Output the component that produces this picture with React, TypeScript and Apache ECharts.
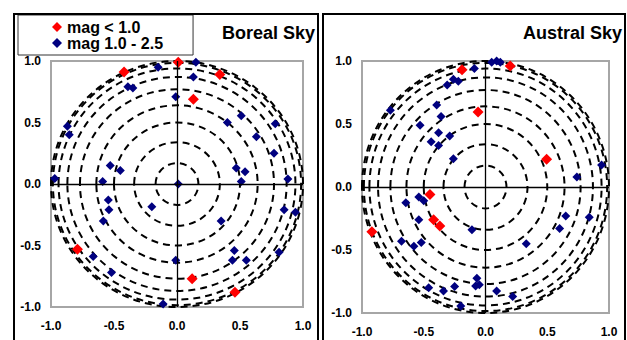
import React, { useEffect, useRef } from "react";
import * as echarts from "echarts";

const seriesNames = ["mag < 1.0", "mag 1.0 - 2.5"];
const panelTitles = ["Boreal Sky", "Austral Sky"];
const ringRadii = [0.17, 0.34, 0.5, 0.64, 0.77, 0.87, 0.94, 0.985, 1.0];

const borealRed = [
  [0.01, 0.99], [-0.42, 0.91], [0.34, 0.89], [0.13, 0.69],
  [-0.79, -0.53], [0.12, -0.77], [0.46, -0.88],
];
const borealBlue = [
  [-0.15, 0.95], [0.15, 0.99], [0.13, 0.87], [-0.39, 0.79], [-0.35, 0.78], [-0.01, 0.71],
  [0.51, 0.555], [0.4, 0.5], [0.78, 0.49], [-0.87, 0.47], [-0.855, 0.4], [0.63, 0.385], [0.77, 0.25],
  [-0.53, 0.15], [-0.45, 0.11], [0.47, 0.13], [0.54, 0.1], [-0.97, 0.045], [-0.59, 0.02], [0.51, 0.02],
  [0.88, 0.04], [0.01, 0.0],
  [-0.545, -0.13], [-0.54, -0.21], [-0.2, -0.185], [-0.585, -0.3], [0.85, -0.21], [0.94, -0.23], [0.35, -0.3],
  [0.455, -0.54], [0.81, -0.555], [0.44, -0.62], [0.55, -0.62], [-0.665, -0.59], [-0.01, -0.62],
  [-0.52, -0.72], [-0.11, -0.975],
];
const australRed = [
  [-0.19, 0.93], [0.2, 0.96], [-0.06, 0.595], [0.495, 0.22],
  [-0.45, -0.06], [-0.42, -0.26], [-0.37, -0.31], [-0.92, -0.355],
];
const australBlue = [
  [-0.09, 0.94], [0.05, 0.99], [0.09, 1.0], [0.12, 0.99], [-0.26, 0.855], [-0.22, 0.84], [-0.31, 0.81],
  [-0.77, 0.61], [-0.395, 0.65], [-0.36, 0.56], [-0.53, 0.49], [-0.38, 0.43], [-0.29, 0.405],
  [-0.44, 0.36], [-0.38, 0.33], [-0.26, 0.225],
  [0.94, 0.175], [0.74, 0.08],
  [-0.54, -0.08], [-0.5, -0.11], [-0.645, -0.125], [-0.54, -0.26], [-0.11, -0.34], [-0.68, -0.43],
  [-0.58, -0.47], [-0.52, -0.44],
  [-0.07, -0.725], [-0.08, -0.785], [-0.05, -0.775], [-0.46, -0.8], [-0.34, -0.825], [-0.25, -0.79],
  [-0.2, -0.945],
  [0.65, -0.23], [0.84, -0.24], [0.6, -0.33], [0.33, -0.45], [0.09, -0.825], [0.22, -0.87],
];

const FONT = "Arial, 'Liberation Sans', sans-serif";
const RED = "#ff0000";
const BLUE = "#000080";

export default function App() {
  const ref = useRef<HTMLDivElement>(null);

  useEffect(() => {
    if (!ref.current) return;
    const chart = echarts.init(ref.current, null, { renderer: "svg" });

    const grids = [
      { left: 51, top: 61, width: 252, height: 246 },
      { left: 362, top: 61, width: 247, height: 252 },
    ];
    const panels = [
      { red: borealRed, blue: borealBlue },
      { red: australRed, blue: australBlue },
    ];

    const axisCommon = {
      type: "value",
      min: -1,
      max: 1,
      interval: 0.5,
      splitLine: { show: false },
      axisTick: { show: false },
      axisLine: { show: false, onZero: false },
      axisLabel: {
        color: "#000",
        fontFamily: FONT,
        fontWeight: "bold",
        fontSize: 12,
        formatter: (v: number) => v.toFixed(1),
      },
    };

    const series: any[] = [];
    panels.forEach((p, i) => {
      series.push({
        type: "custom",
        xAxisIndex: i,
        yAxisIndex: i,
        silent: true,
        z: 1,
        data: ringRadii.map((r) => [r, 0]),
        renderItem: (params: any, api: any) => {
          const r = api.value(0);
          const c = api.coord([0, 0]);
          const s = api.size([r, r]);
          return {
            type: "ellipse",
            shape: { cx: c[0], cy: c[1], rx: s[0], ry: s[1] },
            style: { fill: "none", stroke: "#000", lineWidth: 2, lineDash: [7, 5] },
          };
        },
        markLine: {
          silent: true,
          symbol: ["none", "none"],
          label: { show: false },
          lineStyle: { color: "#000", type: "solid", width: 1.3, opacity: 1 },
          data: [{ xAxis: 0 }, { yAxis: 0 }],
        },
      });
      series.push({
        type: "scatter",
        name: seriesNames[1],
        xAxisIndex: i,
        yAxisIndex: i,
        symbol: "diamond",
        symbolSize: 9,
        itemStyle: { color: BLUE, opacity: 1 },
        z: 3,
        data: p.blue,
      });
      series.push({
        type: "scatter",
        name: seriesNames[0],
        xAxisIndex: i,
        yAxisIndex: i,
        symbol: "diamond",
        symbolSize: 11,
        itemStyle: { color: RED, opacity: 1 },
        z: 4,
        data: p.red,
      });
    });

    chart.setOption({
      animation: false,
      backgroundColor: "#fff",
      grid: grids.map((g) => ({
        ...g,
        show: true,
        borderColor: "#a6a6a6",
        borderWidth: 2,
        backgroundColor: "transparent",
      })),
      xAxis: grids.map((_, i) => ({
        ...axisCommon,
        gridIndex: i,
        position: "bottom",
        axisLabel: { ...axisCommon.axisLabel, margin: 13 },
      })),
      yAxis: grids.map((_, i) => ({
        ...axisCommon,
        gridIndex: i,
        position: "left",
        axisLabel: { ...axisCommon.axisLabel, margin: 10 },
      })),
      title: [
        {
          text: panelTitles[0],
          right: 312,
          top: 24,
          textStyle: { fontFamily: FONT, fontWeight: "bold", fontSize: 18, color: "#000" },
          padding: 0,
        },
        {
          text: panelTitles[1],
          right: 5,
          top: 24,
          textStyle: { fontFamily: FONT, fontWeight: "bold", fontSize: 18, color: "#000" },
          padding: 0,
        },
      ],
      legend: {
        data: seriesNames,
        orient: "vertical",
        left: 18,
        top: 15,
        padding: [4, 30, 4, 34],
        itemGap: 0,
        itemWidth: 10,
        itemHeight: 10,
        icon: "diamond",
        backgroundColor: "#fff",
        borderColor: "#333",
        borderWidth: 1,
        borderRadius: 0,
        selectedMode: false,
        textStyle: {
          fontFamily: FONT,
          fontWeight: "bold",
          fontSize: 16,
          color: "#000",
          lineHeight: 16,
          padding: [0, 0, 0, 0],
        },
      },
      graphic: [
        {
          type: "rect",
          shape: { x: 14, y: 14, width: 304, height: 340 },
          style: { fill: "none", stroke: "#000", lineWidth: 2 },
          silent: true,
          z: 10,
        },
        {
          type: "rect",
          shape: { x: 323, y: 14, width: 302, height: 340 },
          style: { fill: "none", stroke: "#000", lineWidth: 2 },
          silent: true,
          z: 10,
        },
      ],
      series,
    });

    return () => chart.dispose();
  }, []);

  return (
    <div
      ref={ref}
      style={{ position: "fixed", left: 0, top: 0, width: 627, height: 340 }}
    />
  );
}
